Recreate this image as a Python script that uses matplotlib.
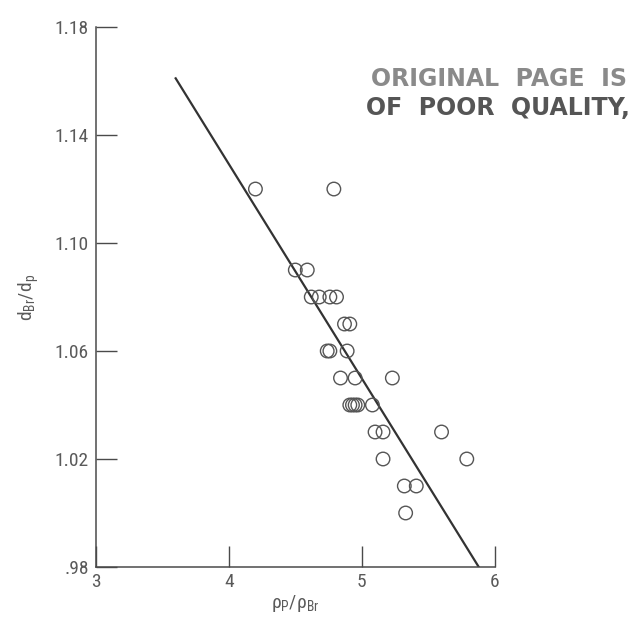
import matplotlib
matplotlib.use('Agg')
import matplotlib.pyplot as plt
from matplotlib import font_manager

# measured points (rho_p / rho_Br, d_Br / d_p)
density_ratio = [4.20, 4.79,
                 4.50, 4.59,
                 4.62, 4.68, 4.76, 4.81,
                 4.87, 4.91,
                 4.74, 4.76, 4.89,
                 4.84, 4.95, 5.23,
                 4.91, 4.93, 4.95, 4.97, 5.08,
                 5.10, 5.16, 5.60,
                 5.16, 5.79,
                 5.32, 5.41,
                 5.33]
diameter_ratio = [1.12, 1.12,
                  1.09, 1.09,
                  1.08, 1.08, 1.08, 1.08,
                  1.07, 1.07,
                  1.06, 1.06, 1.06,
                  1.05, 1.05, 1.05,
                  1.04, 1.04, 1.04, 1.04, 1.04,
                  1.03, 1.03, 1.03,
                  1.02, 1.02,
                  1.01, 1.01,
                  1.00]

# fitted line end points
fit_x = [3.60, 5.88]
fit_y = [1.161, 0.98]

x_ticks = [3, 4, 5, 6]
y_ticks = [0.98, 1.02, 1.06, 1.10, 1.14, 1.18]
y_tick_labels = ['.98', '1.02', '1.06', '1.10', '1.14', '1.18']

ink = '#4a4a4a'
text_grey = '#5a5a5a'

# pick a narrow face if one is around
installed = {f.name for f in font_manager.fontManager.ttflist}
label_font = 'DejaVu Sans'
label_size = 11
for name in ('Liberation Sans Narrow', 'DejaVu Sans Condensed', 'Roboto Condensed'):
    if name in installed:
        label_font = name
        label_size = 14
        break

fig = plt.figure(figsize=(6.31, 6.29), dpi=100)
ax = fig.add_axes([0.152, 0.0986, 0.632, 0.8584])

ax.plot(fit_x, fit_y, color='#333333', lw=1.6, zorder=2)
ax.scatter(density_ratio, diameter_ratio, s=95, facecolors='none',
           edgecolors='#555555', linewidths=1.0, zorder=3)

ax.set_xlim(3, 6)
ax.set_ylim(0.98, 1.18)
ax.set_xticks(x_ticks)
ax.set_yticks(y_ticks)
ax.set_yticklabels(y_tick_labels)

for side in ('top', 'right'):
    ax.spines[side].set_visible(False)
for side in ('left', 'bottom'):
    ax.spines[side].set_color(ink)
    ax.spines[side].set_linewidth(1.1)

ax.tick_params(direction='in', length=15, width=1.0, color=ink,
               labelcolor=text_grey, labelsize=label_size)
ax.tick_params(axis='y', pad=5)
ax.tick_params(axis='x', pad=4)
for lab in ax.get_xticklabels() + ax.get_yticklabels():
    lab.set_fontfamily(label_font)

ax.set_xlabel(r'$\mathregular{\rho_P/\rho_{Br}}$', fontsize=label_size,
              color=text_grey, fontfamily=label_font, labelpad=2)
ax.set_ylabel(r'$\mathregular{d_{Br}/d_p}$', fontsize=label_size,
              color=text_grey, fontfamily=label_font, labelpad=10)

# stamp in the upper right corner
fig.text(0.993, 0.874, 'ORIGINAL  PAGE  IS', ha='right', va='center',
         fontsize=17, fontweight='bold', color='#8a8a8a',
         fontfamily='DejaVu Sans')
fig.text(0.998, 0.828, 'OF  POOR  QUALITY,', ha='right', va='center',
         fontsize=17, fontweight='bold', color='#555555',
         fontfamily='DejaVu Sans')

fig.savefig('out.png', dpi=100)
